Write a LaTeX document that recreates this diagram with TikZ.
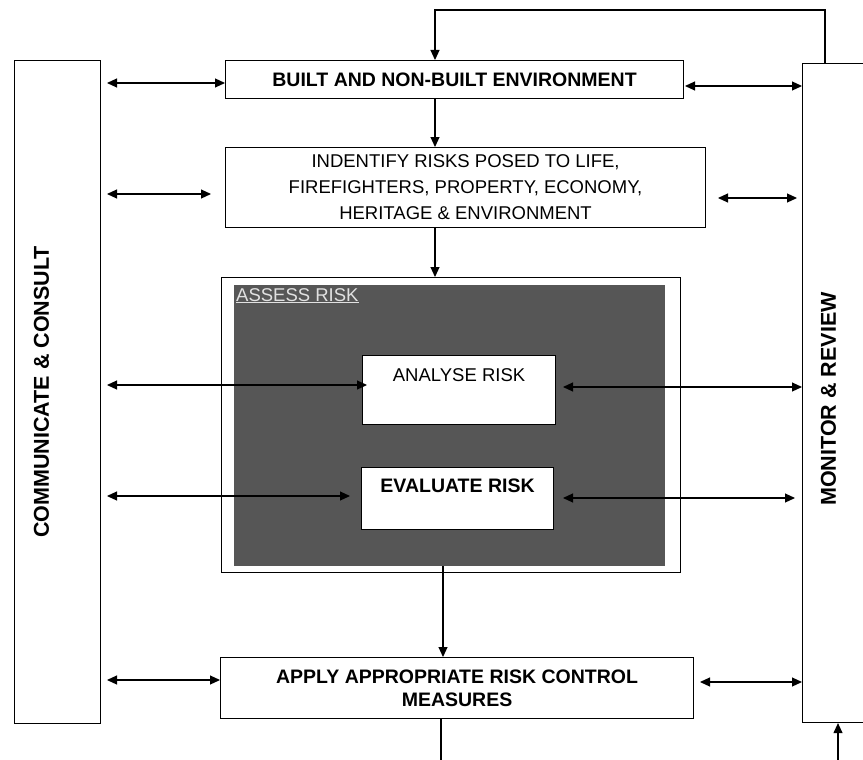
\documentclass[tikz,border=0pt]{standalone}
\usepackage{fontspec}
\setmainfont{Liberation Sans}
\usetikzlibrary{arrows.meta,calc}
\definecolor{darkfill}{RGB}{86,86,86}
\definecolor{lightlbl}{RGB}{225,225,225}
\begin{document}
\begin{tikzpicture}[x=1pt,y=-1pt,
  box/.style={draw,line width=1.1pt,fill=white,inner sep=0pt,align=center,font=\fontsize{18.5}{26}\selectfont},
  arr/.style={line width=1.1pt,-{Triangle[length=10pt,width=9pt]}},
  darr/.style={line width=1.1pt,{Triangle[length=10pt,width=9pt]}-{Triangle[length=10pt,width=9pt]}},
  plain/.style={line width=1.1pt},
  vlbl/.style={rotate=90,inner sep=0pt,font=\bfseries\fontsize{21.5}{21.5}\selectfont},
  inlbl/.style={anchor=north,inner sep=0pt,font=\fontsize{18.5}{22}\selectfont},
  bfont/.style={font=\bfseries\fontsize{19.5}{23}\selectfont}
]
\useasboundingbox (0,0) rectangle (863,760);
\clip (0,0) rectangle (863,760);
\fill[white] (0,0) rectangle (863,760);

% side boxes
\node[box,minimum width=86pt,minimum height=663pt,anchor=north west,
  label={[xshift=-16pt,vlbl]center:COMMUNICATE \& CONSULT}] (com) at (14,60) {};
\node[box,minimum width=140pt,minimum height=659pt,anchor=north west,
  label={[xshift=-44pt,yshift=-6pt,vlbl]center:MONITOR \& REVIEW}] (mon) at (802,63) {};

% main column
\node[box,bfont,minimum width=458pt,minimum height=38pt,anchor=north west] (built) at (225,60)
  {BUILT AND NON-BUILT ENVIRONMENT};
\node[box,minimum width=480pt,minimum height=80pt,anchor=north west] (iden) at (225,147)
  {INDENTIFY RISKS POSED TO LIFE,\\FIREFIGHTERS, PROPERTY, ECONOMY,\\HERITAGE \& ENVIRONMENT};
\node[box,line width=1pt,minimum width=459pt,minimum height=295pt,anchor=north west] (assess) at (221,277) {};
\node[fill=darkfill,inner sep=0pt,minimum width=431pt,minimum height=281pt,anchor=north west,
  label={[anchor=north west,inner sep=0pt,xshift=2pt,yshift=-3pt,text=lightlbl,font=\fontsize{18.5}{22}\selectfont]north west:\underline{ASSESS RISK}}] (inner) at (234,285) {};
\node[box,minimum width=193pt,minimum height=69pt,anchor=north west,
  label={[inlbl,yshift=-13pt]north:ANALYSE RISK}] (ana) at (362,355) {};
\node[box,minimum width=192pt,minimum height=62pt,anchor=north west,
  label={[inlbl,yshift=-12pt,bfont]north:EVALUATE RISK}] (eva) at (361,467) {};
\node[box,bfont,align=center,minimum width=473pt,minimum height=61pt,anchor=north west] (apply) at (220,657)
  {APPLY APPROPRIATE RISK CONTROL\\MEASURES};

% free ends
\coordinate (l1) at (107,83);  \coordinate (r1) at (685,86);
\coordinate (l2) at (107,194); \coordinate (l2b) at (211,194);
\coordinate (r2) at (718,198); \coordinate (r2b) at (797,198);
\coordinate (l3) at (107,385); \coordinate (l3b) at (367,385);
\coordinate (r3) at (563,387);
\coordinate (l4) at (107,496); \coordinate (l4b) at (350,496);
\coordinate (r4) at (563,498); \coordinate (r4b) at (795,498);
\coordinate (l5) at (107,680); \coordinate (r5) at (700,682);
\coordinate (top1) at (825,10); \coordinate (top2) at (435,10);
\coordinate (bot1) at (441,760); \coordinate (bot2) at (838,760);

% horizontal double arrows
\draw[darr] (l1) -- (built.west |- l1);
\draw[darr] (r1) -- (mon.west |- r1);
\draw[darr] (l2) -- (l2b);
\draw[darr] (r2) -- (r2b);
\draw[darr] (l3) -- (l3b);
\draw[darr] (r3) -- (mon.west |- r3);
\draw[darr] (l4) -- (l4b);
\draw[darr] (r4) -- (r4b);
\draw[darr] (l5) -- (apply.west |- l5);
\draw[darr] (r5) -- (mon.west |- r5);

% vertical flow
\draw[arr] (built.south -| top2) -- (iden.north -| top2);
\draw[arr] (iden.south -| top2) -- (assess.north -| top2);
\draw[arr] (inner.south -| 443,0) -- (apply.north -| 443,0);
\draw[plain] (apply.south -| bot1) -- (bot1);
\draw[arr] (bot2) -- (mon.south -| bot2);
\draw[arr] (mon.north -| top1) -- (top1) -- (top2) -- (built.north -| top2);
\end{tikzpicture}
\end{document}
